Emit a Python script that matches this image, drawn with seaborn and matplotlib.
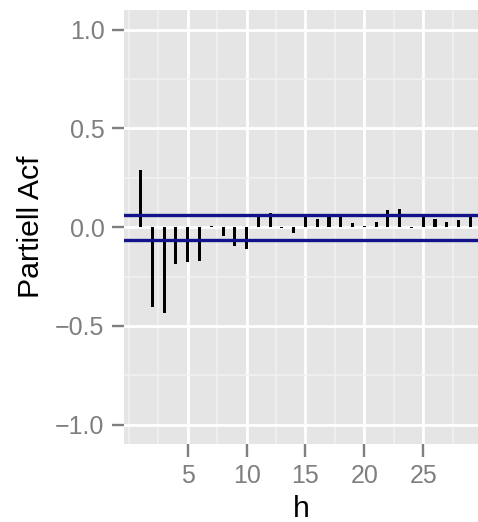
import numpy as np
import pandas as pd
import matplotlib
matplotlib.use("Agg")
import matplotlib.pyplot as plt
import seaborn as sns

# Partial autocorrelation by lag
lags = list(range(1, 30))
pacf = [0.291, -0.404, -0.434, -0.186, -0.178, -0.173, 0.005, -0.043, -0.095, -0.110,
        0.060, 0.072, -0.005, -0.030, 0.058, 0.043, 0.060, 0.057, 0.021, 0.008,
        0.026, 0.085, 0.094, -0.004, 0.053, 0.043, 0.025, 0.037, 0.058]
conf_limit = 0.064

x_ticks = [5, 10, 15, 20, 25]
x_minor = [0, 2.5, 7.5, 12.5, 17.5, 22.5, 27.5]
y_ticks = [-1.0, -0.5, 0.0, 0.5, 1.0]
y_tick_labels = ["\u22121.0", "\u22120.5", "0.0", "0.5", "1.0"]
y_minor = [-0.75, -0.25, 0.25, 0.75]

sns.set_theme(style="darkgrid", rc={
    "axes.facecolor": "#E5E5E5",
    "grid.color": "white",
    "axes.edgecolor": "none",
})
plt.rcParams["font.family"] = ["Liberation Sans", "DejaVu Sans"]

df = pd.DataFrame({"h": lags, "pacf": pacf})

W, H = 478, 522
fig = plt.figure(figsize=(W / 100, H / 100), dpi=100)
ax = fig.add_axes([124 / W, 1 - 444.3 / H, 1 - 124 / W, (444.3 - 10) / H])

sns.barplot(data=df, x="h", y="pacf", native_scale=True, width=0.26,
            color="black", saturation=1, linewidth=0, ax=ax, zorder=3)

for v in (conf_limit, -conf_limit):
    ax.axhline(v, color="#12128A", lw=2.4, zorder=4)

ax.set_xlim(-0.41, 29.65)
ax.set_ylim(-1.1, 1.1)

ax.set_xticks(x_ticks)
ax.set_xticklabels([str(t) for t in x_ticks])
ax.set_xticks(x_minor, minor=True)
ax.set_yticks(y_ticks)
ax.set_yticklabels(y_tick_labels)
ax.set_yticks(y_minor, minor=True)

ax.grid(which="major", color="white", lw=2.0)
ax.grid(which="minor", color="#F2F2F2", lw=1.1)
ax.set_axisbelow(True)

ax.tick_params(axis="both", which="major", length=9, width=1.7, color="#7F7F7F",
               labelcolor="#7F7F7F", labelsize=18, pad=5, direction="out",
               bottom=True, left=True)
ax.tick_params(axis="both", which="minor", length=0)

ax.set_xlabel("h", fontsize=21.8, color="black", labelpad=5)
ax.set_ylabel("Partiell Acf", fontsize=21.8, color="black", labelpad=7)

fig.savefig("out.png", dpi=100)
